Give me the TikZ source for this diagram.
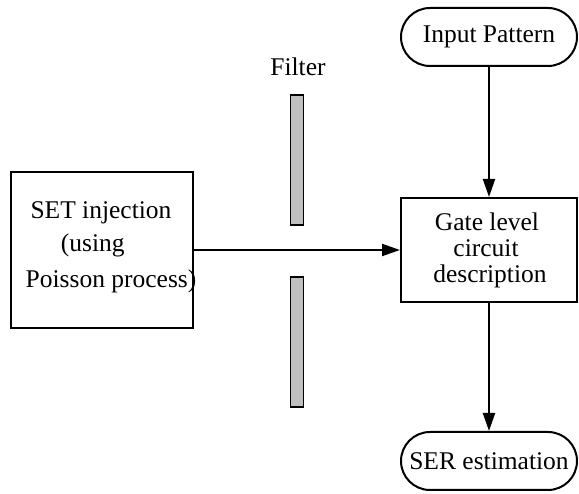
\documentclass[tikz,border=0pt]{standalone}
\usepackage{fontspec}
\setmainfont{Liberation Serif}
\usetikzlibrary{arrows.meta}
\begin{document}
\begin{tikzpicture}[x=1pt,y=-1pt,
  font=\fontsize{25.5}{26}\selectfont,
  box/.style={draw=black,line width=2pt,rectangle,inner sep=0pt},
  term/.style={draw=black,line width=2pt,rectangle,rounded corners=29pt,minimum width=176pt,minimum height=58pt,inner sep=0pt},
  bar/.style={draw=black,fill=black!25,line width=1.6pt,rectangle,minimum width=13pt,minimum height=130pt,inner sep=0pt},
  txt/.style={inner sep=0pt,anchor=base},
  conn/.style={line width=2pt,-{Triangle[length=18pt,width=12pt]}}]
\useasboundingbox (0,0) rectangle (579,494);
\node[box,minimum width=182pt,minimum height=156pt] (set) at (102,250) {};
\node[txt] (t1) at (101,219) {SET injection};
\node[txt] (t2) at (96,252) {(using\phantom{ }};
\node[txt] (t3) at (111,288) {Poisson process)};
\node[bar] (bu) at (297,160) {};
\node[bar] (bl) at (297,342) {};
\node[txt] (flt) at (298,76) {Filter};
\node[term] (inp) at (489,37) {Input Pattern};
\node[box,minimum width=176pt,minimum height=104pt] (gate) at (489,250) {};
\node[txt] (g1) at (487,231) {Gate level};
\node[txt] (g2) at (486,257) {circuit};
\node[txt] (g3) at (490,283) {description};
\node[term] (ser) at (489,461) {SER estimation};
\draw[conn] (set.east) -- (gate.west);
\draw[conn] (inp) -- (gate);
\draw[conn] (gate) -- (ser);
\end{tikzpicture}
\end{document}
